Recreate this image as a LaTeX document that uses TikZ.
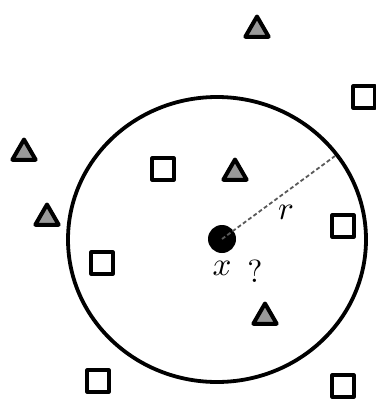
\documentclass[tikz,border=0pt]{standalone}
\usetikzlibrary{shapes.geometric}
\begin{document}
\begin{tikzpicture}[x=1pt,y=-1pt,
  sq/.style={draw=black,fill=white,line width=4pt,minimum size=21.5pt,inner sep=0pt,line join=round},
  tri/.style={draw=black,fill=gray!80,line width=4pt,regular polygon,regular polygon sides=3,minimum size=27pt,inner sep=0pt,line join=round},
  lbl/.style={inner sep=0pt}]
\useasboundingbox (0,0) rectangle (375,399);
\draw[line width=3.8pt] (217,239.5) ellipse [x radius=149, y radius=142.5];
\node[circle,fill=black,minimum size=28pt,inner sep=0pt] (x) at (222,239) {};
\coordinate (rim) at (335,156);
\draw[gray!70!black,line width=1.8pt,dash pattern=on 4pt off 2.5pt] (x.center) -- (rim);
\node[lbl] (rl) at (286,212) {\scalebox{3.3}{$r$}};
\node[lbl] (xl) at (222,268) {\scalebox{3.3}{$x$}};
\node[lbl] (ql) at (255,271) {\scalebox{3.2}{?}};
\node[tri] (t1) at (257,30) {};
\node[tri] (t2) at (24,153) {};
\node[tri] (t3) at (235,173) {};
\node[tri] (t4) at (47,218) {};
\node[tri] (t5) at (265,317) {};
\node[sq] (s1) at (364,97) {};
\node[sq] (s2) at (163,169) {};
\node[sq] (s3) at (343,226) {};
\node[sq] (s4) at (102,263) {};
\node[sq] (s5) at (98,381) {};
\node[sq] (s6) at (343,386) {};
\end{tikzpicture}
\end{document}
